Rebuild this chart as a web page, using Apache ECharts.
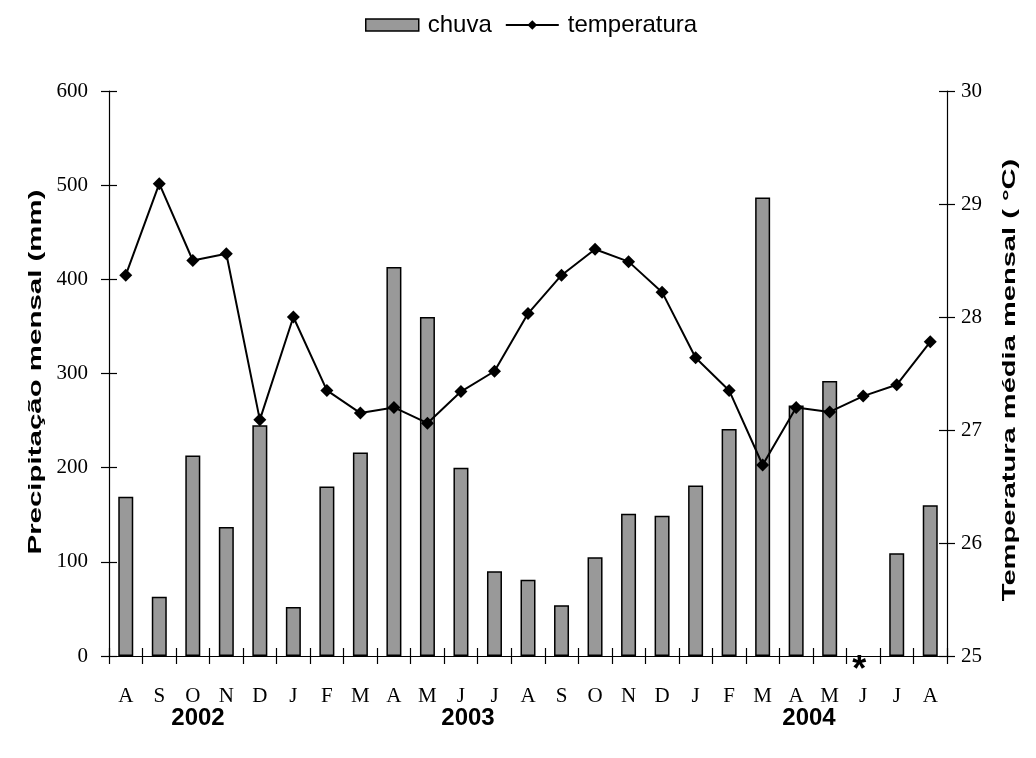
<!DOCTYPE html>
<html>
<head>
<meta charset="utf-8">
<script src="https://cdn.jsdelivr.net/npm/echarts@6/dist/echarts.min.js"></script>
<style>html,body{margin:0;padding:0;background:#fff}#c{width:1036px;height:758px}</style>
</head>
<body>
<div id="c"></div>
<script>
const months = ['A','S','O','N','D','J','F','M','A','M','J','J','A','S','O','N','D','J','F','M','A','M','J','J','A'];
const rain = [169, 63, 213, 137, 245, 52, 180, 216, 413, 360, 200, 90, 81, 54, 105, 151, 149, 181, 241, 487, 266, 292, null, 109, 160];
const temp = [28.37, 29.18, 28.50, 28.56, 27.09, 28.00, 27.35, 27.15, 27.20, 27.06, 27.34, 27.52, 28.03, 28.37, 28.60, 28.49, 28.22, 27.64, 27.35, 26.69, 27.20, 27.16, 27.30, 27.40, 27.78];
const years = ['2002', '2003', '2004'];
const rainTicks = [0, 600, 100];
const tempTicks = [25, 30, 1];
const rainTitle = 'Precipitação mensal (mm)';
const tempTitle = 'Temperatura média mensal ( °C)';

const chart = echarts.init(document.getElementById('c'), null, {renderer: 'canvas'});
const serif = '"Liberation Serif", "Times New Roman", serif';
const sans = '"Liberation Sans", Arial, sans-serif';

const rainData = rain.map(v => v === null
  ? {value: 0, itemStyle: {borderWidth: 0, color: 'rgba(0,0,0,0)'},
     label: {show: true, formatter: '*', position: 'top', offset: [-4, 38], fontSize: 36, fontWeight: 'bold', color: '#000', fontFamily: sans}}
  : v);

const yearX = [198, 468, 809];

const graphics = years.map((y, i) => ({
  type: 'text', x: yearX[i], y: 718,
  style: {text: y, font: 'bold 24px ' + sans, fill: '#000', align: 'center', verticalAlign: 'middle'}
}));
graphics.push({
  type: 'text', x: 36, y: 372, rotation: Math.PI / 2, scaleX: 1.55,
  style: {text: rainTitle, font: 'bold 19px ' + sans, fill: '#000', align: 'center', verticalAlign: 'middle'}
});
graphics.push({
  type: 'text', x: 1010, y: 380, rotation: Math.PI / 2, scaleX: 1.53,
  style: {text: tempTitle, font: 'bold 19px ' + sans, fill: '#000', align: 'center', verticalAlign: 'middle'}
});

chart.setOption({
  animation: false,
  backgroundColor: '#fff',
  legend: {
    left: 360, top: 8,
    itemWidth: 53, itemHeight: 12, itemGap: 13,
    textStyle: {fontFamily: sans, fontSize: 24, color: '#000', padding: [0, 0, 0, 4]},
    data: [
      {name: 'chuva', icon: 'rect', itemStyle: {color: '#999999', borderColor: '#000', borderWidth: 1.5}},
      {name: 'temperatura'}
    ]
  },
  grid: {left: 109, right: 89, top: 91, bottom: 102},
  xAxis: [
    {
      type: 'category', data: months, position: 'bottom',
      axisLine: {lineStyle: {color: '#000', width: 1.2}},
      axisTick: {show: true, length: 8, lineStyle: {color: '#000', width: 1.2}},
      axisLabel: {fontFamily: serif, fontSize: 21, color: '#000', margin: 30, interval: 0}
    },
    {
      type: 'category', data: months, position: 'bottom',
      axisLine: {show: false},
      axisTick: {show: true, inside: true, length: 8, lineStyle: {color: '#000', width: 1.2}},
      axisLabel: {show: false}
    }
  ],
  yAxis: [
    {
      type: 'value', min: rainTicks[0], max: rainTicks[1], interval: rainTicks[2], position: 'left',
      axisLine: {show: true, lineStyle: {color: '#000', width: 1.2}},
      axisTick: {show: true, length: 8, lineStyle: {color: '#000', width: 1.2}},
      axisLabel: {fontFamily: serif, fontSize: 21, color: '#000', margin: 21},
      splitLine: {show: false}
    },
    {
      type: 'value', min: tempTicks[0], max: tempTicks[1], interval: tempTicks[2], position: 'right',
      axisLine: {show: true, lineStyle: {color: '#000', width: 1.2}},
      axisTick: {show: true, length: 8, lineStyle: {color: '#000', width: 1.2}},
      axisLabel: {fontFamily: serif, fontSize: 21, color: '#000', margin: 14},
      splitLine: {show: false}
    },
    {
      type: 'value', min: rainTicks[0], max: rainTicks[1], interval: rainTicks[2], position: 'left',
      axisLine: {show: false},
      axisTick: {show: true, inside: true, length: 8, lineStyle: {color: '#000', width: 1.2}},
      axisLabel: {show: false}, splitLine: {show: false}
    },
    {
      type: 'value', min: tempTicks[0], max: tempTicks[1], interval: tempTicks[2], position: 'right',
      axisLine: {show: false},
      axisTick: {show: true, inside: true, length: 8, lineStyle: {color: '#000', width: 1.2}},
      axisLabel: {show: false}, splitLine: {show: false}
    }
  ],
  series: [
    {
      name: 'chuva', type: 'bar', xAxisIndex: 0, yAxisIndex: 0,
      data: rainData, barWidth: 15,
      itemStyle: {color: '#999999', borderColor: '#000', borderWidth: 1.5}
    },
    {
      name: 'temperatura', type: 'line', xAxisIndex: 0, yAxisIndex: 1,
      data: temp, symbol: 'diamond', symbolSize: 13,
      lineStyle: {color: '#000', width: 2},
      itemStyle: {color: '#000'}
    }
  ],
  graphic: graphics
});
</script>
</body>
</html>
